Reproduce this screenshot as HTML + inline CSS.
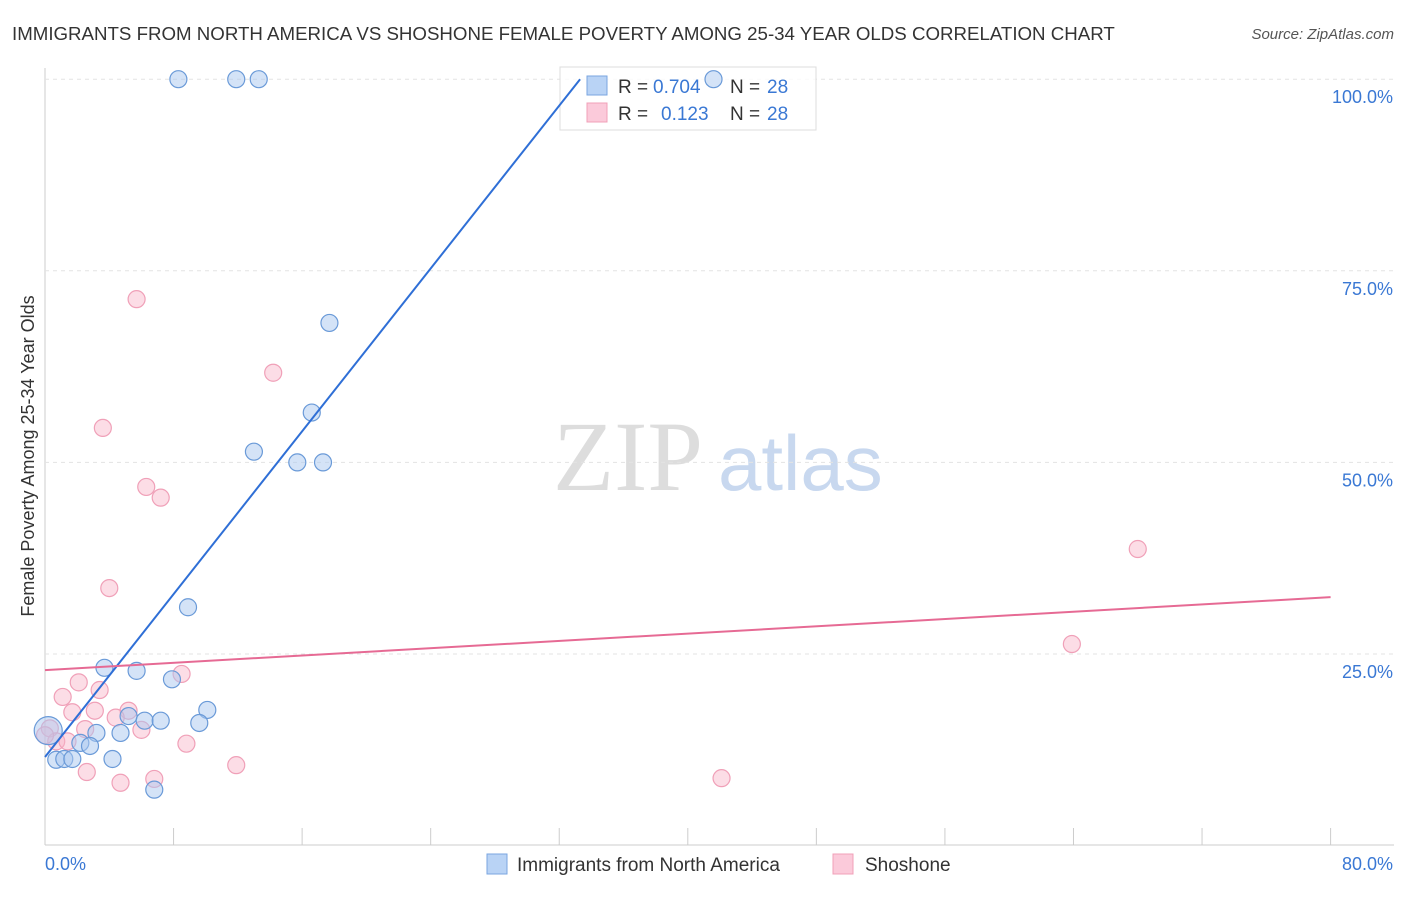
<!DOCTYPE html>
<html><head><meta charset="utf-8"><style>
body{margin:0;background:#fff;font-family:"Liberation Sans",sans-serif;}
</style></head><body>
<svg id="chart" width="1406" height="892" xmlns="http://www.w3.org/2000/svg">
<text x="12" y="40" font-size="18.7" fill="#333">IMMIGRANTS FROM NORTH AMERICA VS SHOSHONE FEMALE POVERTY AMONG 25-34 YEAR OLDS CORRELATION CHART</text>
<text x="1394" y="39" font-size="15" fill="#555" font-style="italic" text-anchor="end">Source: ZipAtlas.com</text>
<text x="34" y="456" font-size="18" fill="#333" text-anchor="middle" transform="rotate(-90 34 456)">Female Poverty Among 25-34 Year Olds</text>
<text x="553" y="490" font-size="100" fill="#ddd" font-family="Liberation Serif,serif">ZIP</text>
<text x="718" y="490" font-size="78" fill="#c8d8ef">atlas</text>
<g id="grid"></g>
<g>
<rect x="560" y="67" width="256" height="63" fill="#fff" fill-opacity="0.8" stroke="#ddd"/>
<rect x="587" y="76" width="20" height="19" fill="#b9d3f5" stroke="#7aa6e0"/>
<rect x="587" y="103" width="20" height="19" fill="#fbcada" stroke="#f0a0b8"/>
<text x="618" y="93" font-size="19" fill="#333">R =</text>
<text x="653" y="93" font-size="19" fill="#3a78d4">0.704</text>
<text x="730" y="93" font-size="19" fill="#333">N =</text>
<text x="767" y="93" font-size="19" fill="#3a78d4">28</text>
<text x="618" y="120" font-size="19" fill="#333">R =</text>
<text x="661" y="120" font-size="19" fill="#3a78d4">0.123</text>
<text x="730" y="120" font-size="19" fill="#333">N =</text>
<text x="767" y="120" font-size="19" fill="#3a78d4">28</text>
</g>
<g id="pts"></g><g id="lines"></g>
<g>
<rect x="487" y="854" width="20" height="20" fill="#b9d3f5" stroke="#7aa6e0"/>
<text x="517" y="871" font-size="19" fill="#333">Immigrants from North America</text>
<rect x="833" y="854" width="20" height="20" fill="#fbcada" stroke="#f0a0b8"/>
<text x="865" y="871" font-size="19" fill="#333">Shoshone</text>
</g>
</svg>
<script>
const xTicks=[0,8,16,24,32,40,48,56,64,72,80];
const yTicks=[25,50,75,100];
const blueX=[8.3,11.9,13.3,41.6,17.7,16.6,13.0,15.7,17.3,8.9,3.7,5.7,7.9,10.1,5.2,6.2,7.2,9.6,3.2,4.7,0.2,2.2,2.8,0.7,1.2,1.7,4.2,6.8];
const blueY=[100,100,100,100,68.2,56.5,51.4,50,50,31.1,23.2,22.8,21.7,17.7,16.9,16.3,16.3,16.0,14.7,14.7,15.0,13.4,13.0,11.2,11.3,11.3,11.3,7.3];
const pinkX=[5.7,14.2,3.6,6.3,7.2,4.0,68.0,63.9,8.5,2.1,1.1,3.4,1.7,3.1,5.2,4.4,2.5,6.0,0.3,0.7,1.4,8.8,2.6,4.7,6.8,11.9,42.1,0];
const pinkY=[71.3,61.7,54.5,46.8,45.4,33.6,38.7,26.3,22.4,21.3,19.4,20.3,17.4,17.6,17.6,16.7,15.2,15.1,15.3,13.6,13.6,13.3,9.6,8.2,8.7,10.5,8.8,14.4];
const blueFit=[11.56,2.656];
const pinkFit=[22.9,0.119];
const X=v=>45+v*16.07, Y=v=>845.6-v*7.664;
const NS="http://www.w3.org/2000/svg";
function mk(t,a,p){const e=document.createElementNS(NS,t);for(const k in a)e.setAttribute(k,a[k]);p.appendChild(e);return e;}
const g=document.getElementById('grid');
mk('line',{x1:45,y1:845,x2:1394,y2:845,stroke:'#ccc'},g);
mk('line',{x1:45,y1:68,x2:45,y2:845,stroke:'#ccc'},g);
yTicks.forEach(v=>{const l=mk('line',{x1:45,y1:Y(v),x2:1394,y2:Y(v),stroke:'#e3e3e3','stroke-dasharray':'4,4'},g);

const t=mk('text',{x:1393,y:Y(v)+24,'font-size':18,fill:'#3a78d4','text-anchor':'end'},g);t.textContent=v.toFixed(1)+'%';
});
xTicks.forEach(v=>{const l=mk('line',{x1:X(v),y1:828,x2:X(v),y2:845,stroke:'#ccc'},g);
});
[[0,'start',45],[80,'end',1393]].forEach(([v,a,x])=>{const t=mk('text',{x:x,y:870,'font-size':18,fill:'#3a78d4','text-anchor':a},g);t.textContent=v.toFixed(1)+'%';
});
const p=document.getElementById('pts');
pinkX.forEach((v,i)=>{const c=mk('circle',{cx:X(v),cy:Y(pinkY[i]),r:8.5,fill:'rgba(248,180,200,0.45)',stroke:'#f0a0b8','stroke-width':1.2},p);
});
blueX.forEach((v,i)=>{const c=mk('circle',{cx:X(v),cy:Y(blueY[i]),r:i==20?14:8.5,fill:'rgba(170,200,240,0.5)',stroke:'#6a9ad8','stroke-width':1.2},p);
});
const L=document.getElementById('lines');
const bEnd=(100-blueFit[0])/blueFit[1];
const bl=mk('line',{x1:X(0),y1:Y(blueFit[0]),x2:X(bEnd),y2:Y(100),stroke:'#2f6fd6','stroke-width':2},L);

const pl=mk('line',{x1:X(0),y1:Y(pinkFit[0]),x2:X(80),y2:Y(pinkFit[0]+80*pinkFit[1]),stroke:'#e66a94','stroke-width':2},L);

</script>
</body></html>
